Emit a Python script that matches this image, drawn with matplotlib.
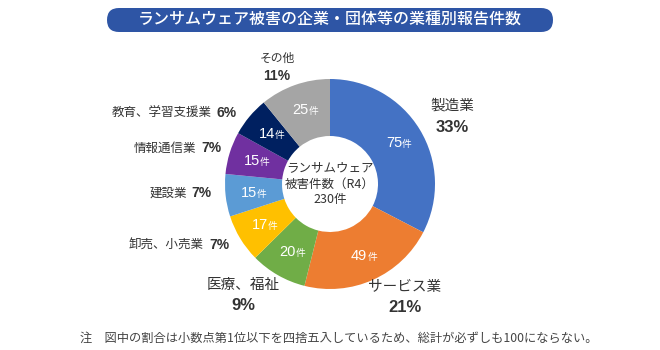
import numpy as np
import matplotlib
matplotlib.use("Agg")
import matplotlib.pyplot as plt
from matplotlib.patches import FancyBboxPatch

plt.rcParams["font.family"] = ["Noto Sans CJK JP", "DejaVu Sans"]

TITLE = "ランサムウェア被害の企業・団体等の業種別報告件数"
NOTE = "注　図中の割合は小数点第1位以下を四捨五入しているため、総計が必ずしも100にならない。"

industries = ["製造業", "サービス業", "医療、福祉", "卸売、小売業", "建設業",
              "情報通信業", "教育、学習支援業", "その他"]
counts = [75, 49, 20, 17, 15, 15, 14, 25]
percents = [33, 21, 9, 7, 7, 7, 6, 11]
colors = ["#4472C4", "#ED7D31", "#70AD47", "#FFC000", "#5B9BD5",
          "#7030A0", "#002060", "#A5A5A5"]

W, H = 660, 350
fig = plt.figure(figsize=(6.6, 3.5), dpi=100)
ax = fig.add_axes([0, 0, 1, 1])

cx, cy, r_out, r_in = 330, 350 - 184, 105, 48
wedges, _ = ax.pie(counts, colors=colors, startangle=90, counterclock=False,
                   center=(cx, cy), radius=r_out, frame=True,
                   wedgeprops=dict(width=r_out - r_in, linewidth=0))
ax.set_xlim(0, W)
ax.set_ylim(0, H)
ax.set_aspect("equal")
ax.axis("off")

PCT_FONT = ["Liberation Sans", "DejaVu Sans"]

# count labels inside ring
rm = (r_out + r_in) / 2 + 2
for w, n in zip(wedges, counts):
    ang = np.deg2rad((w.theta1 + w.theta2) / 2)
    x = cx + rm * np.cos(ang)
    y = cy + rm * np.sin(ang)
    ax.text(x + 5, y, str(n), ha="right", va="center", color="white",
            fontsize=10.5, family=PCT_FONT)
    ax.text(x + 5, y - 1, "件", ha="left", va="center", color="white", fontsize=7)

# outer category labels (pixel positions from top)
stack_pos = {
    "製造業": (452, 106),
    "サービス業": (405, 287),
    "医療、福祉": (243, 285),
    "その他": (277, 58),
}
side_pos = {
    "卸売、小売業": (229, 245),
    "建設業": (212, 193),
    "情報通信業": (221, 148),
    "教育、学習支援業": (237, 113),
}
txt = "#333333"
for name, pct in zip(industries, percents):
    if name in stack_pos:
        x, y = stack_pos[name]
        big = name != "その他"
        ax.text(x, H - y, name, ha="center", va="center", color=txt,
                fontsize=10.5 if big else 8.5)
        ax.text(x, H - y - (21 if big else 18), f"{pct}%", ha="center",
                va="center", color=txt, fontsize=12 if big else 10,
                fontweight="bold", family=PCT_FONT)
    else:
        x, y = side_pos[name]
        ax.text(x, H - y, f"{pct}%", ha="right", va="center", color=txt,
                fontsize=10, fontweight="bold", family=PCT_FONT)
        ax.text(x - 25, H - y, name, ha="right", va="center", color=txt,
                fontsize=9)

# center text
ax.text(cx, cy + 16, "ランサムウェア", ha="center", va="center", color=txt, fontsize=9)
ax.text(cx, cy, "被害件数（R4）", ha="center", va="center", color=txt, fontsize=9)
ax.text(cx, cy - 16, f"{sum(counts)}件", ha="center", va="center", color=txt, fontsize=9)

# title banner
box = FancyBboxPatch((107, H - 32), 446, 24,
                     boxstyle="round,pad=0,rounding_size=12",
                     facecolor="#2E55A5", edgecolor="none")
ax.add_patch(box)
ax.text(W / 2, H - 20, TITLE, ha="center", va="center", color="white",
        fontsize=11.5, fontweight="medium")

ax.text(80, H - 338, NOTE, ha="left", va="center", color="#444444", fontsize=8.8)

fig.savefig("out.png", dpi=100)
